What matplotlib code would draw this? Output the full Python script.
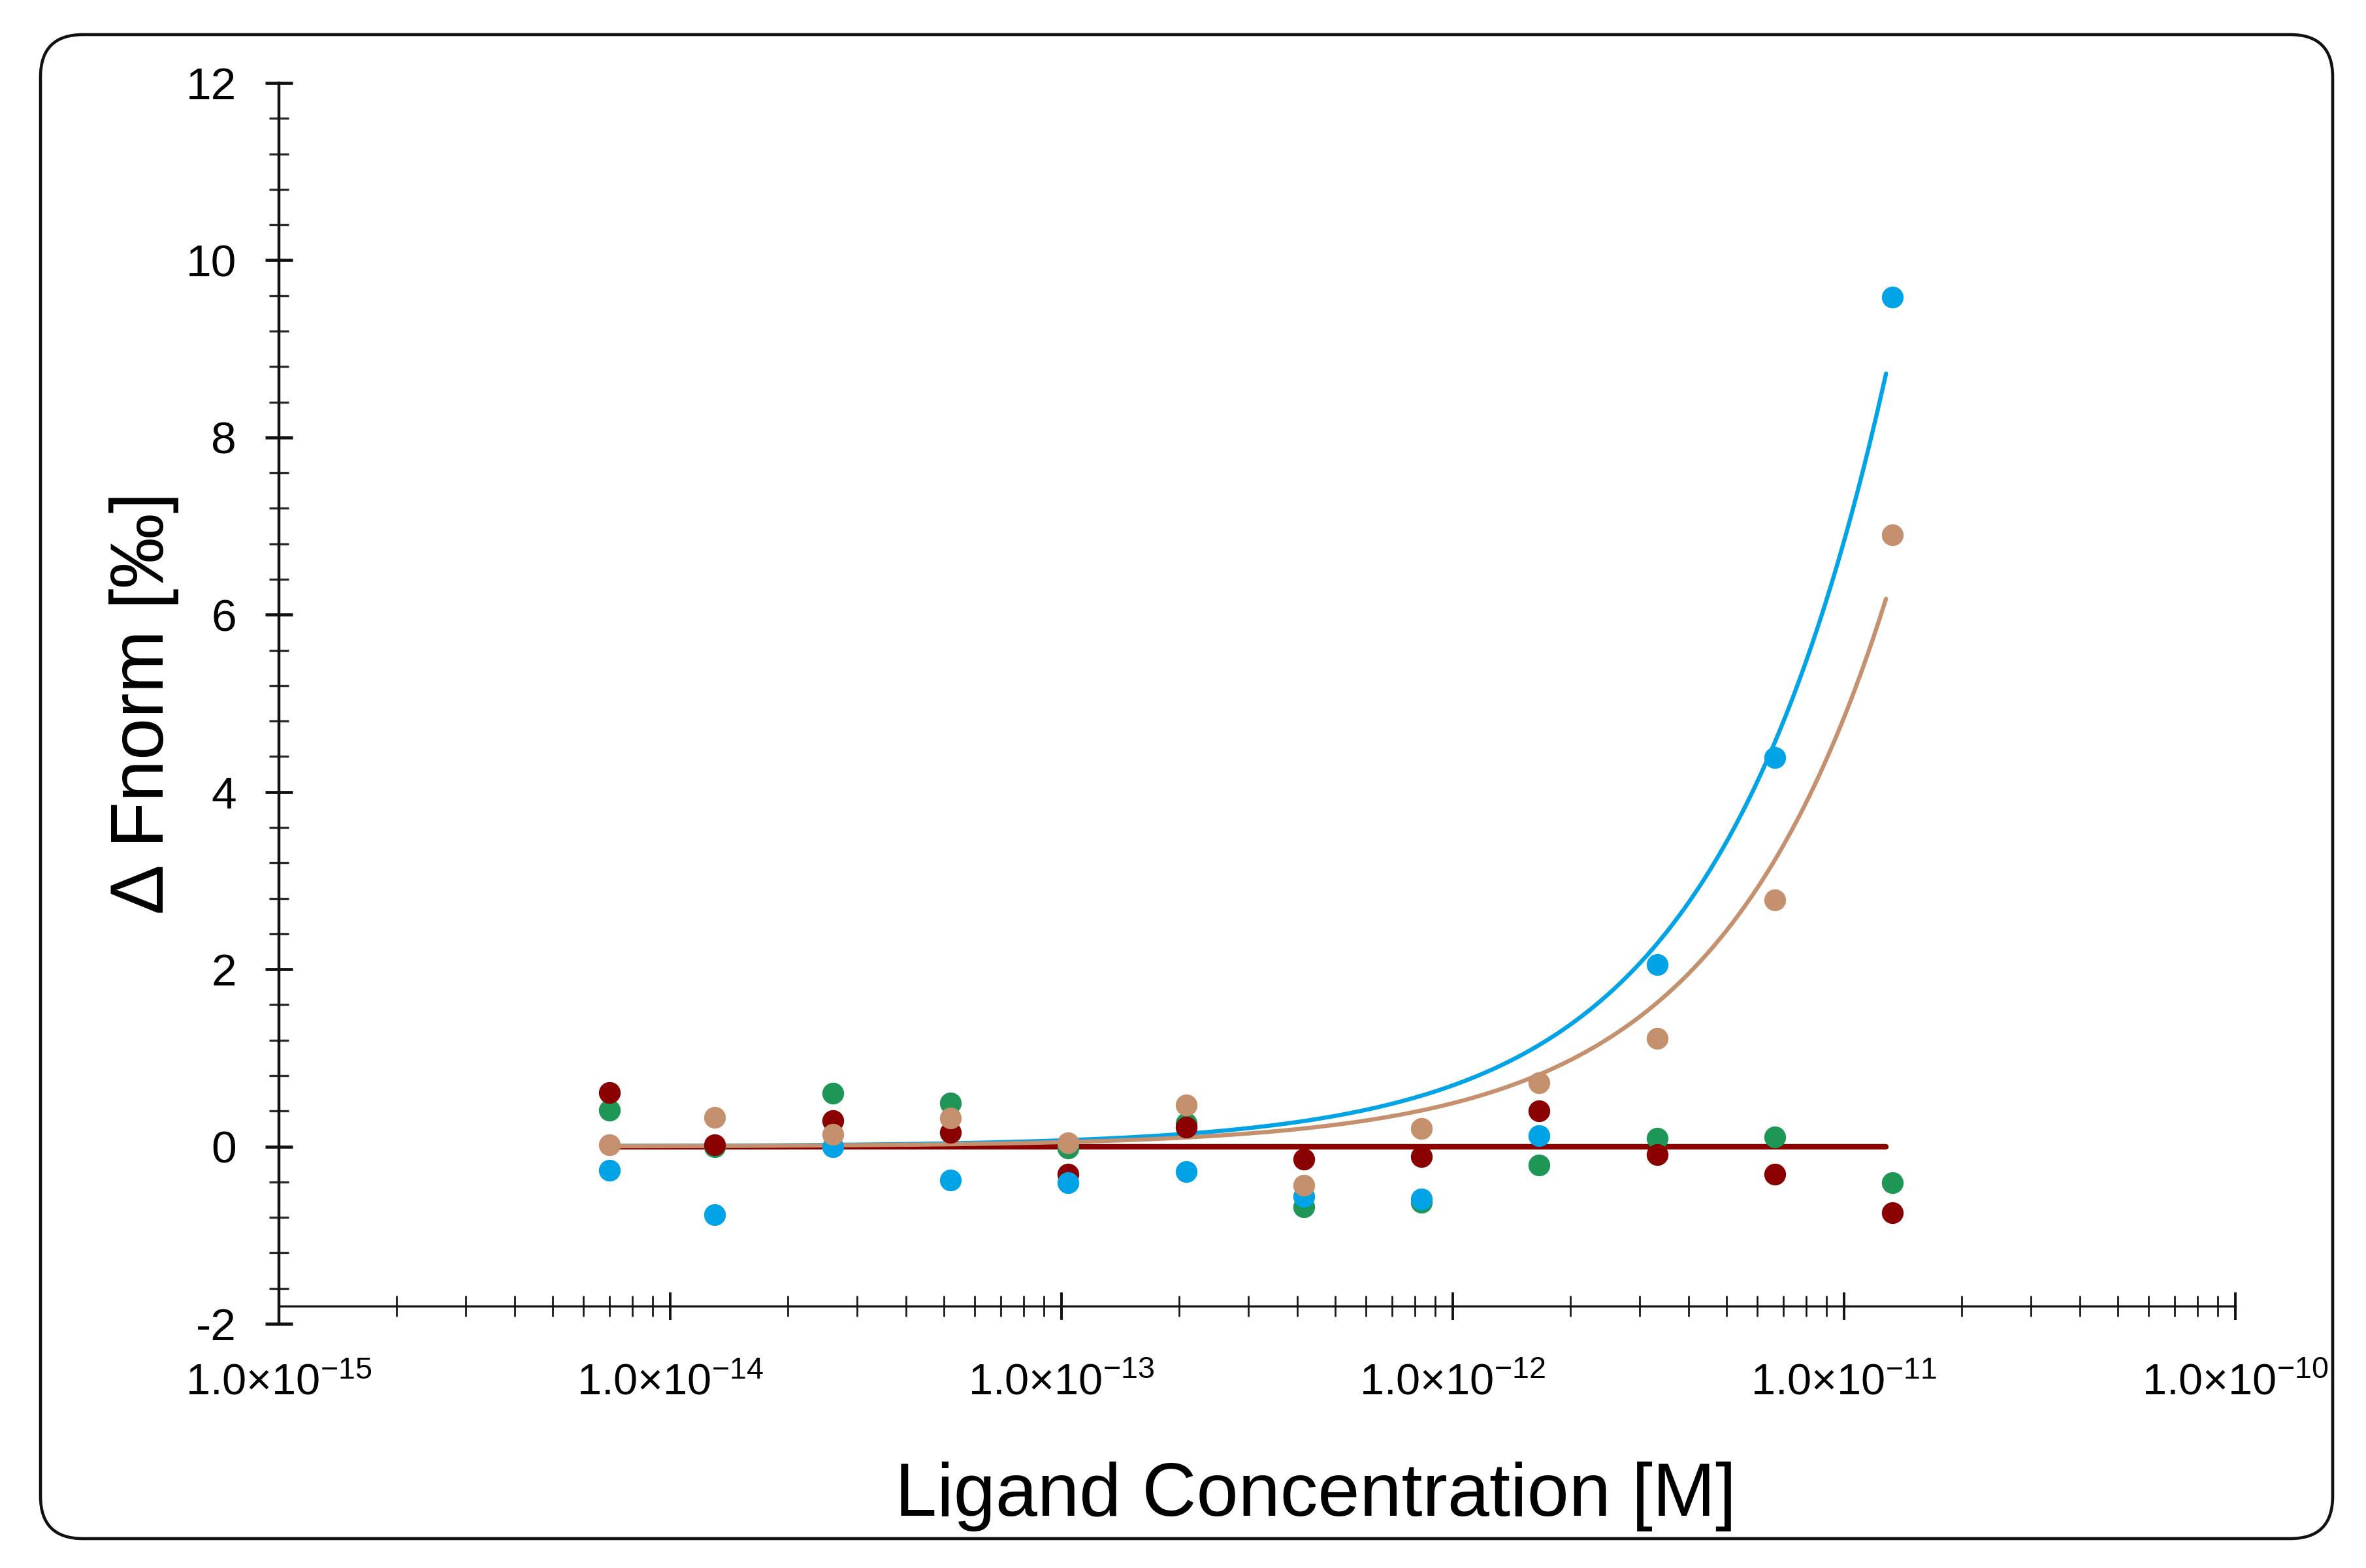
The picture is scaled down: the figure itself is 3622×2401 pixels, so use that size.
import numpy as np
import matplotlib
matplotlib.use("Agg")
import matplotlib.pyplot as plt
from matplotlib import font_manager as fm
from matplotlib.patches import FancyBboxPatch
from matplotlib.ticker import LogLocator, NullFormatter, MultipleLocator, FixedLocator

# ---------------- data ----------------
conc = [7.0e-15, 1.3e-14, 2.6e-14, 5.2e-14, 1.04e-13, 2.08e-13,
        4.16e-13, 8.3e-13, 1.66e-12, 3.33e-12, 6.65e-12, 1.33e-11]

blue  = [-0.27, -0.77, 0.00, -0.38, -0.41, -0.28, -0.56, -0.59, 0.12, 2.05, 4.39, 9.58]
tan   = [0.02, 0.33, 0.14, 0.32, 0.04, 0.47, -0.44, 0.20, 0.72, 1.22, 2.78, 6.90]
green = [0.41, 0.00, 0.60, 0.49, -0.02, 0.26, -0.68, -0.63, -0.21, 0.09, 0.11, -0.41]
red   = [0.61, 0.02, 0.29, 0.16, -0.31, 0.22, -0.14, -0.11, 0.40, -0.09, -0.31, -0.75]

# fit parameters (Kd model: F = amp * c / (Kd + c))
fit_kd  = 1.0e-9
fit_amp = {"blue": 690.0, "tan": 489.0, "green": 0.0, "red": 0.0}
fit_start, fit_end = 7.0e-15, 1.28e-11

x_ticks = [1e-15, 1e-14, 1e-13, 1e-12, 1e-11, 1e-10]
x_tick_labels = [r"1.0×10$^{-15}$", r"1.0×10$^{-14}$", r"1.0×10$^{-13}$",
                 r"1.0×10$^{-12}$", r"1.0×10$^{-11}$", r"1.0×10$^{-10}$"]
y_ticks = [-2, 0, 2, 4, 6, 8, 10, 12]

colors = {"blue": "#00A3E6", "tan": "#C4906E", "green": "#1E9656", "red": "#8B0000"}

# ---------------- fonts ----------------
names = {f.name for f in fm.fontManager.ttflist}
tick_font = "Liberation Sans Narrow" if "Liberation Sans Narrow" in names else "Liberation Sans"
label_font = "Liberation Sans"
plt.rcParams["font.family"] = [tick_font, "DejaVu Sans"]
plt.rcParams["mathtext.fontset"] = "custom"
plt.rcParams["mathtext.rm"] = tick_font
plt.rcParams["mathtext.it"] = tick_font
plt.rcParams["mathtext.default"] = "regular"
plt.rcParams["axes.unicode_minus"] = False

W, H = 3622, 2401
fig = plt.figure(figsize=(W / 100, H / 100), dpi=100)

# axes placement (pixels)
x0, x1 = 427, 3422
ytop, ybot = 127, 2027
ax = fig.add_axes([x0 / W, (H - ybot) / H, (x1 - x0) / W, (ybot - ytop) / H])
ax.set_xscale("log")
ax.set_xlim(1e-15, 1e-10)
ax.set_ylim(-2, 12)
ax.patch.set_alpha(0)

for s in ["top", "right"]:
    ax.spines[s].set_visible(False)
ax.spines["bottom"].set_position(("data", -1.8))
ax.spines["bottom"].set_linewidth(2.4)
ax.spines["left"].set_linewidth(3.2)
ax.spines["bottom"].set_color("#111111")
ax.spines["left"].set_color("#111111")

ax.xaxis.set_major_locator(FixedLocator(x_ticks))
ax.set_xticklabels(x_tick_labels)
ax.xaxis.set_minor_locator(LogLocator(base=10, subs=np.arange(2, 10)))
ax.xaxis.set_minor_formatter(NullFormatter())
ax.yaxis.set_major_locator(FixedLocator(y_ticks))
ax.yaxis.set_minor_locator(MultipleLocator(0.4))

ax.tick_params(axis="x", which="major", direction="inout", length=30, width=2.8,
               color="#111111", labelsize=48, pad=48)
ax.tick_params(axis="x", which="minor", direction="inout", length=23, width=2.0,
               color="#1a1a1a")
ax.tick_params(axis="y", which="major", direction="inout", length=30, width=3.4,
               color="#111111", labelsize=50, pad=32)
ax.tick_params(axis="y", which="minor", direction="inout", length=22, width=2.4,
               color="#2a2a2a")

# ---------------- fit curves ----------------
cfit = np.logspace(np.log10(fit_start), np.log10(fit_end), 400)
for key, lw in [("green", 6.0), ("red", 6.0), ("blue", 4.6), ("tan", 4.6)]:
    yfit = fit_amp[key] * cfit / (fit_kd + cfit)
    ax.plot(cfit, yfit, color=colors[key], lw=lw, solid_capstyle="round", zorder=2)

# ---------------- data points ----------------
for key, vals in [("green", green), ("red", red), ("blue", blue), ("tan", tan)]:
    ax.plot(conc, vals, ls="none", marker="o", ms=24, mew=0,
            color=colors[key], zorder=3, clip_on=False)

# ---------------- labels ----------------
fig.text(221 / W, 1 - 1077 / H, "Δ Fnorm [‰]", rotation=90, ha="center", va="center",
         fontsize=83, family=[label_font, "DejaVu Sans"])
fig.text(2014 / W, 1 - 2321 / H, "Ligand Concentration [M]", ha="center", va="baseline",
         fontsize=83, family=[label_font, "DejaVu Sans"])

# ---------------- rounded frame ----------------
frame = FancyBboxPatch((0.62, 0.45), 35.09, 23.03,
                       boxstyle="round,pad=0,rounding_size=0.65",
                       transform=fig.dpi_scale_trans, fill=False,
                       ec="#111111", lw=3.3)
fig.patches.append(frame)

fig.savefig("out.png", dpi=100)
